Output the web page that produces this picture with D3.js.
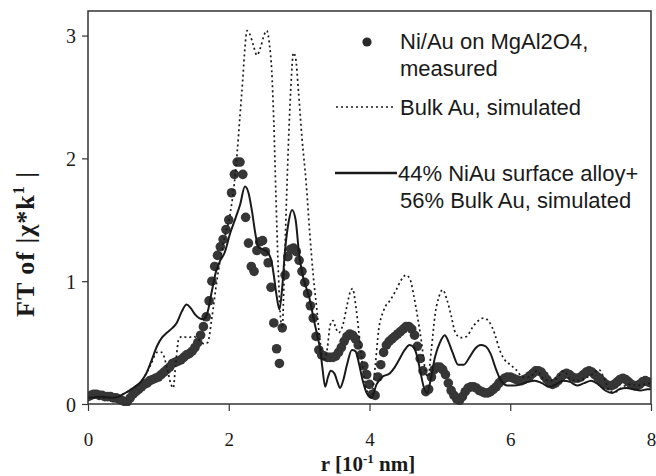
<!DOCTYPE html>
<html><head><meta charset="utf-8">
<script src="https://cdn.jsdelivr.net/npm/d3@7"></script>
<style>
html,body{margin:0;padding:0;background:#fff;}
svg{display:block;}
</style></head>
<body><svg id="c" width="656" height="476"></svg>
<script>
// ---- data ----
const xTicks = [0, 2, 4, 6, 8];
const yTicks = [0, 1, 2, 3];
const legendLabels = ["Ni/Au on MgAl2O4,", "measured", "Bulk Au, simulated", "44% NiAu surface alloy+", "56% Bulk Au, simulated"];

// measured FT, on an r grid from 0 to 8 with step 0.04
const measuredStep = 0.04;
const measured = [
0.06,0.07,0.08,0.08,0.07,0.07,0.06,0.06,0.06,0.05,
0.05,0.04,0.03,0.02,0.02,0.05,0.08,0.10,0.12,0.14,
0.16,0.17,0.19,0.20,0.21,0.22,0.24,0.26,0.28,0.30,
0.33,0.34,0.35,0.36,0.38,0.40,0.41,0.43,0.46,0.50,
0.56,0.63,0.71,0.84,1.00,1.12,1.21,1.28,1.34,1.42,
1.50,1.72,1.87,1.97,1.97,1.87,1.52,1.31,1.12,1.08,
1.25,1.32,1.33,1.24,1.15,0.95,0.66,0.45,0.33,0.62,
1.05,1.20,1.26,1.27,1.24,1.17,1.08,0.99,0.90,0.80,
0.70,0.55,0.44,0.40,0.39,0.38,0.38,0.38,0.39,0.42,
0.46,0.51,0.55,0.57,0.56,0.53,0.48,0.40,0.31,0.24,
0.16,0.08,0.07,0.22,0.32,0.42,0.48,0.51,0.53,0.55,
0.57,0.59,0.61,0.63,0.63,0.61,0.56,0.47,0.37,0.27,
0.10,0.12,0.22,0.28,0.30,0.30,0.28,0.24,0.17,0.11,
0.07,0.04,0.03,0.06,0.10,0.13,0.14,0.14,0.13,0.11,
0.10,0.09,0.09,0.10,0.12,0.14,0.17,0.19,0.21,0.22,
0.22,0.21,0.20,0.19,0.19,0.20,0.21,0.23,0.25,0.27,
0.27,0.26,0.23,0.20,0.17,0.16,0.17,0.19,0.22,0.24,
0.25,0.24,0.22,0.21,0.21,0.22,0.24,0.26,0.27,0.26,
0.24,0.22,0.20,0.18,0.16,0.15,0.15,0.16,0.18,0.20,
0.21,0.20,0.18,0.16,0.15,0.15,0.16,0.18,0.19,0.18,
0.17
];

// Bulk Au simulated: [r, FT]
const bulkAu = [
[0,0.05],[0.36,0.05],[0.5,0.08],[0.64,0.13],[0.75,0.18],[0.83,0.25],[0.9,0.33],[0.98,0.42],[1.05,0.42],
[1.12,0.30],[1.18,0.16],[1.21,0.13],[1.25,0.35],[1.29,0.53],[1.34,0.55],[1.42,0.54],[1.50,0.55],[1.58,0.52],
[1.65,0.49],[1.70,0.50],[1.76,0.70],[1.83,1.00],[1.92,1.30],[2.02,1.55],[2.08,1.80],[2.12,2.05],[2.16,2.35],
[2.20,2.65],[2.23,2.90],[2.26,3.04],[2.30,3.01],[2.35,2.92],[2.40,2.84],[2.45,2.90],[2.50,3.00],[2.54,3.04],
[2.58,2.92],[2.61,2.72],[2.64,2.30],[2.67,1.70],[2.70,1.15],[2.73,0.75],[2.76,0.62],[2.79,1.10],[2.82,1.65],
[2.85,2.15],[2.88,2.55],[2.92,2.86],[2.95,2.82],[2.99,2.55],[3.04,2.17],[3.10,1.80],[3.15,1.40],[3.20,1.05],
[3.25,0.78],[3.30,0.50],[3.35,0.35],[3.40,0.45],[3.44,0.64],[3.48,0.68],[3.52,0.62],[3.56,0.58],[3.62,0.64],
[3.68,0.80],[3.73,0.92],[3.76,0.94],[3.80,0.82],[3.85,0.58],[3.90,0.32],[3.96,0.12],[4.03,0.06],[4.08,0.30],
[4.13,0.60],[4.20,0.76],[4.30,0.85],[4.38,0.93],[4.45,1.01],[4.52,1.05],[4.58,1.01],[4.63,0.88],[4.68,0.72],
[4.74,0.50],[4.79,0.28],[4.83,0.22],[4.88,0.45],[4.93,0.72],[4.98,0.86],[5.04,0.93],[5.10,0.85],[5.16,0.72],
[5.22,0.58],[5.30,0.54],[5.38,0.55],[5.47,0.63],[5.55,0.68],[5.62,0.70],[5.70,0.67],[5.78,0.57],[5.85,0.44],
[5.92,0.36],[6.00,0.32],[6.08,0.28],[6.18,0.22],[6.28,0.22],[6.38,0.27],[6.48,0.20],[6.58,0.19],[6.68,0.22],
[6.76,0.27],[6.86,0.20],[6.96,0.19],[7.06,0.21],[7.16,0.24],[7.26,0.28],[7.34,0.20],[7.42,0.10],[7.50,0.10],
[7.60,0.14],[7.70,0.16],[7.80,0.15],[7.90,0.16],[8.0,0.17]
];

// 44% NiAu surface alloy + 56% bulk Au simulated: [r, FT]
const alloyMix = [
[0,0.05],[0.2,0.06],[0.36,0.05],[0.5,0.08],[0.64,0.13],[0.75,0.18],[0.83,0.25],[0.9,0.35],[0.98,0.47],
[1.05,0.54],[1.12,0.58],[1.2,0.62],[1.26,0.66],[1.33,0.75],[1.40,0.81],[1.46,0.78],[1.52,0.73],[1.58,0.70],
[1.64,0.69],[1.70,0.75],[1.76,0.92],[1.82,1.08],[1.88,1.17],[1.94,1.23],[2.02,1.39],[2.10,1.52],[2.16,1.62],
[2.23,1.77],[2.28,1.72],[2.33,1.57],[2.38,1.38],[2.42,1.28],[2.48,1.26],[2.54,1.24],[2.60,1.18],[2.64,1.05],
[2.68,0.88],[2.72,0.77],[2.76,0.95],[2.80,1.25],[2.85,1.48],[2.90,1.58],[2.95,1.50],[3.00,1.22],[3.05,1.05],
[3.11,0.93],[3.16,0.83],[3.20,0.71],[3.25,0.58],[3.30,0.44],[3.33,0.30],[3.37,0.14],[3.41,0.22],[3.45,0.27],
[3.50,0.25],[3.55,0.17],[3.58,0.13],[3.63,0.20],[3.68,0.32],[3.75,0.44],[3.80,0.43],[3.85,0.33],[3.90,0.20],
[3.96,0.09],[4.03,0.05],[4.10,0.16],[4.18,0.22],[4.29,0.25],[4.36,0.30],[4.43,0.37],[4.50,0.44],[4.57,0.48],
[4.63,0.46],[4.68,0.38],[4.72,0.27],[4.77,0.14],[4.82,0.09],[4.87,0.20],[4.93,0.38],[5.00,0.50],[5.07,0.56],
[5.12,0.51],[5.18,0.42],[5.26,0.32],[5.34,0.32],[5.42,0.38],[5.50,0.45],[5.58,0.48],[5.65,0.47],[5.72,0.41],
[5.80,0.28],[5.88,0.18],[5.96,0.15],[6.05,0.15],[6.15,0.16],[6.25,0.18],[6.35,0.19],[6.45,0.17],[6.55,0.14],
[6.65,0.16],[6.75,0.19],[6.85,0.18],[6.95,0.15],[7.05,0.17],[7.15,0.19],[7.25,0.16],[7.35,0.11],[7.45,0.09],
[7.55,0.12],[7.65,0.13],[7.75,0.12],[7.85,0.11],[7.95,0.12],[8.0,0.12]
];

// ---- drawing ----
const svg = d3.select("#c");
const L = 88, R = 651, T = 11, B = 404;
const x = d3.scaleLinear().domain([0, 8]).range([L, R]);
const y = d3.scaleLinear().domain([0, 3.2]).range([B, T]);

const serif = "'Liberation Serif','Times New Roman',serif";
const sans = "'Liberation Sans',Arial,Helvetica,sans-serif";
const ink = "#1a1a1a";

svg.append("clipPath").attr("id", "plotclip")
  .append("rect").attr("x", L).attr("y", T).attr("width", R - L).attr("height", B - T + 2);

const plot = svg.append("g").attr("clip-path", "url(#plotclip)");

// measured dots
const mData = measured.map((v, i) => [i * measuredStep, v]);
plot.append("g").selectAll("circle").data(mData).join("circle")
  .attr("cx", d => x(d[0])).attr("cy", d => y(d[1])).attr("r", 4.8)
  .attr("fill", "#363636");

const line = d3.line().x(d => x(d[0])).y(d => y(d[1])).curve(d3.curveMonotoneX);

plot.append("path").datum(bulkAu).attr("d", line)
  .attr("fill", "none").attr("stroke", ink).attr("stroke-width", 1.7)
  .attr("stroke-dasharray", "2,3");

plot.append("path").datum(alloyMix).attr("d", line)
  .attr("fill", "none").attr("stroke", ink).attr("stroke-width", 2);

// frame
svg.append("rect").attr("x", L).attr("y", T).attr("width", R - L).attr("height", B - T)
  .attr("fill", "none").attr("stroke", "#333").attr("stroke-width", 1.5);

// axes
const xAxis = d3.axisBottom(x).tickValues(xTicks).tickSize(7).tickFormat(d3.format("d"));
const gx = svg.append("g").attr("transform", `translate(0,${B})`).call(xAxis);
gx.select(".domain").remove();
gx.selectAll(".tick line").attr("stroke", "#333").attr("stroke-width", 1.2);
gx.selectAll(".tick text").attr("font-family", serif).attr("font-size", 19)
  .attr("fill", ink).attr("dy", null).attr("y", 42);

const yAxis = d3.axisLeft(y).tickValues(yTicks).tickSize(6).tickFormat(d3.format("d"));
const gy = svg.append("g").attr("transform", `translate(${L},0)`).call(yAxis);
gy.select(".domain").remove();
gy.selectAll(".tick line").attr("stroke", "#333").attr("stroke-width", 1.2);
gy.selectAll(".tick text").attr("font-family", serif).attr("font-size", 20)
  .attr("fill", ink).attr("x", -12).attr("dy", "0.35em");

// axis titles
const xt = svg.append("text").attr("x", 368).attr("y", 471).attr("text-anchor", "middle")
  .attr("font-family", serif).attr("font-size", 21).attr("font-weight", "bold").attr("fill", ink);
xt.append("tspan").text("r [10");
xt.append("tspan").attr("dy", -8).attr("font-size", 13).text("-1");
xt.append("tspan").attr("dy", 8).text(" nm]");

const yt = svg.append("text").attr("transform", "translate(34,244) rotate(-90)").attr("text-anchor", "middle")
  .attr("font-family", serif).attr("font-size", 26).attr("font-weight", "bold").attr("fill", ink)
  .attr("letter-spacing", 1);
yt.append("tspan").text("FT of |χ*k");
yt.append("tspan").attr("dy", -10).attr("font-size", 16).text("1");
yt.append("tspan").attr("dy", 10).text(" |");

// legend
const leg = svg.append("g").attr("font-family", sans).attr("font-size", 22).attr("fill", ink);
leg.append("circle").attr("cx", 367).attr("cy", 42).attr("r", 4.6).attr("fill", "#2a2a2a");
leg.append("line").attr("x1", 336).attr("x2", 393).attr("y1", 107).attr("y2", 107)
  .attr("stroke", ink).attr("stroke-width", 1.6).attr("stroke-dasharray", "2,3");
leg.append("line").attr("x1", 335).attr("x2", 397).attr("y1", 173).attr("y2", 173)
  .attr("stroke", ink).attr("stroke-width", 2.4);
const legPos = [[400, 49], [400, 76], [400, 115], [398, 181], [400, 208]];
legendLabels.forEach((t, i) => {
  leg.append("text").attr("x", legPos[i][0]).attr("y", legPos[i][1]).text(t);
});
</script>
</body></html>
